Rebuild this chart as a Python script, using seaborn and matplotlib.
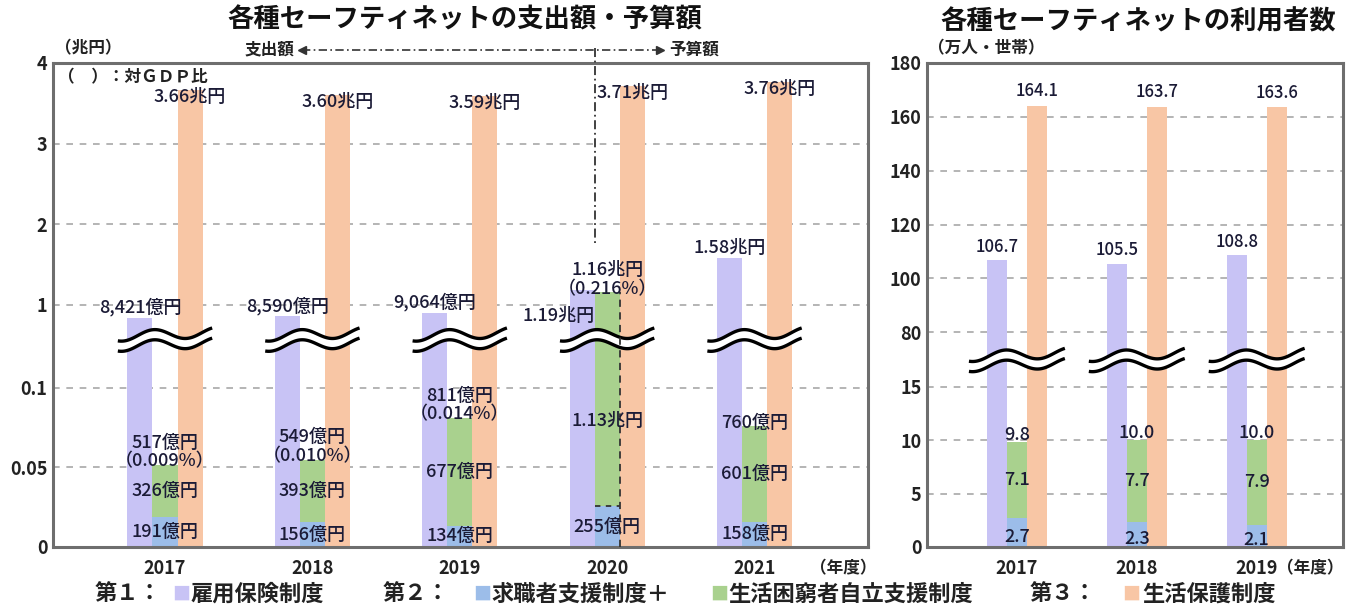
import numpy as np
import pandas as pd
import seaborn as sns
import matplotlib
matplotlib.use("Agg")
import matplotlib.pyplot as plt
import matplotlib.transforms as mtrans


# ----------------- Data -----------------
# left panel: spending / budget (trillion yen)
years_left = ["2017", "2018", "2019", "2020", "2021"]
koyo_left = [0.8421, 0.8590, 0.9064, 1.19, 1.58]          # 雇用保険制度
kyushoku_left = [0.0191, 0.0156, 0.0134, 0.0255, 0.0158]  # 求職者支援制度
konkyu_left = [0.0326, 0.0393, 0.0677, 1.13, 0.0601]      # 生活困窮者自立支援制度
hogo_left = [3.66, 3.60, 3.59, 3.71, 3.76]                # 生活保護制度

koyo_left_labels = ["8,421億円", "8,590億円", "9,064億円", "1.19兆円", "1.58兆円"]
kyushoku_left_labels = ["191億円", "156億円", "134億円", "255億円", "158億円"]
konkyu_left_labels = ["326億円", "393億円", "677億円", "1.13兆円", "601億円"]
total_left_labels = ["517億円\n（0.009%）", "549億円\n（0.010%）", "811億円\n（0.014%）",
                     "1.16兆円\n（0.216%）", "760億円"]
hogo_left_labels = ["3.66兆円", "3.60兆円", "3.59兆円", "3.71兆円", "3.76兆円"]

left_ticks = [0, 0.05, 0.1, 1, 2, 3, 4]
left_tick_labels = ["0", "0.05", "0.1", "1", "2", "3", "4"]

# right panel: users (10k people / households)
years_right = ["2017", "2018", "2019"]
koyo_right = [106.7, 105.5, 108.8]
kyushoku_right = [2.7, 2.3, 2.1]
konkyu_right = [7.1, 7.7, 7.9]
total_right = [9.8, 10.0, 10.0]
hogo_right = [164.1, 163.7, 163.6]

right_ticks = [0, 5, 10, 15, 80, 100, 120, 140, 160, 180]
right_tick_labels = ["0", "5", "10", "15", "80", "100", "120", "140", "160", "180"]

# ----------------- Style -----------------
LAV = "#c8c3f5"
BLUE = "#9cbde9"
GREEN = "#a9d18e"
PEACH = "#f8c6a5"
TXT = "#1b1b36"
FRAME = "#6e6e6e"
series_order = ["第1", "第2", "第3"]
palette = {"第1": LAV, "第2": GREEN, "第3": PEACH}
palette_blue = {"第1": LAV, "第2": BLUE, "第3": PEACH}

sns.set_style("white")
plt.rcParams["font.family"] = ["Noto Sans CJK JP", "DejaVu Sans"]

W, H = 1353, 607


def broken_scale(lo, hi, k_lo, k_hi, gap=1.0):
    """piecewise linear scale: 0..lo steep, hi..top shallow, lo..hi squeezed"""
    y0 = lo * k_lo

    def fwd(v):
        v = np.asarray(v, dtype=float)
        mid = y0 + (v - lo) / (hi - lo) * gap
        upper = y0 + gap + (v - hi) * k_hi
        return np.where(v <= lo, v * k_lo, np.where(v >= hi, upper, mid))

    def inv(y):
        y = np.asarray(y, dtype=float)
        mid = lo + (y - y0) / gap * (hi - lo)
        upper = hi + (y - y0 - gap) / k_hi
        return np.where(y <= y0, y / k_lo, np.where(y >= y0 + gap, upper, mid))

    return fwd, inv, y0 + gap / 2


def draw_bars(ax, years, koyo, kyushoku, konkyu, hogo, width):
    n = len(years)
    total = [a + b for a, b in zip(kyushoku, konkyu)]
    main = pd.DataFrame({
        "year": years * 3,
        "series": ["第1"] * n + ["第2"] * n + ["第3"] * n,
        "value": koyo + total + hogo,
    })
    sns.barplot(data=main, x="year", y="value", hue="series", hue_order=series_order,
                order=years, palette=palette, width=width, gap=0, saturation=1,
                errorbar=None, legend=False, ax=ax, linewidth=0)
    # lower part of the stacked 第2 bar (other series kept at 0 so dodge matches)
    low = pd.DataFrame({
        "year": years * 3,
        "series": ["第1"] * n + ["第2"] * n + ["第3"] * n,
        "value": [0] * n + kyushoku + [0] * n,
    })
    sns.barplot(data=low, x="year", y="value", hue="series", hue_order=series_order,
                order=years, palette=palette_blue, width=width, gap=0, saturation=1,
                errorbar=None, legend=False, ax=ax, linewidth=0)
    ax.set_xlabel("")
    ax.set_ylabel("")
    return total


def style_axes(ax, ticks, labels, ymax, fwd, inv):
    ax.set_yscale("function", functions=(fwd, inv))
    ax.set_ylim(0, ymax)
    ax.set_yticks(ticks)
    ax.set_yticklabels(labels)
    ax.yaxis.grid(True, color="#a8a8a8", linestyle=(0, (4, 4)), linewidth=1.2)
    ax.set_axisbelow(True)
    ax.tick_params(axis="both", length=0, labelsize=13, colors="#222222")
    ax.tick_params(axis="x", pad=9)
    ax.tick_params(axis="y", pad=4)
    for lab in ax.get_xticklabels() + ax.get_yticklabels():
        lab.set_fontweight("bold")
    for sp in ax.spines.values():
        sp.set_visible(True)
        sp.set_color(FRAME)
        sp.set_linewidth(2.2)


def draw_breaks(ax, n, yfrac, half, amp=0.0105, sep=0.0105):
    trans = mtrans.blended_transform_factory(ax.transData, ax.transAxes)
    t = np.linspace(-2.0, 7.3, 120)
    wave = amp * np.sin(t) + 0.004 * (t - 2.6) / 4.6
    for i in range(n):
        xs = np.linspace(i - half, i + half, t.size)
        top = yfrac + sep + wave
        bot = yfrac - sep + wave
        ax.fill_between(xs, bot, top, color="white", transform=trans, zorder=5)
        ax.plot(xs, top, color="black", lw=2.4, transform=trans, zorder=6,
                solid_capstyle="butt")
        ax.plot(xs, bot, color="black", lw=2.4, transform=trans, zorder=6,
                solid_capstyle="butt")


def label(ax, x, y, s, dy=0, va="bottom", ha="center", size=13):
    ax.annotate(s, (x, y), xytext=(0, dy), textcoords="offset points",
                ha=ha, va=va, fontsize=size, color=TXT, zorder=8,
                linespacing=1.05, fontweight="medium")


fig = plt.figure(figsize=(W / 100, H / 100), dpi=100)
axL = fig.add_axes([53 / W, 60 / H, 815 / W, 484 / H])
axR = fig.add_axes([927 / W, 60 / H, 416 / W, 484 / H])

# ----------------- Left panel -----------------
bw = 0.17
total_left = draw_bars(axL, years_left, koyo_left, kyushoku_left, konkyu_left,
                       hogo_left, width=3 * bw)
fwdL, invL, brkL = broken_scale(0.13, 0.58, 1600, 81)
style_axes(axL, left_ticks, left_tick_labels, 4, fwdL, invL)
axL.set_xlim(-0.76, 4.77)
draw_breaks(axL, len(years_left), brkL / float(fwdL(4)), 0.32)

for i in range(len(years_left)):
    # 第1
    if total_left[i] > 0.5 * koyo_left[i]:
        label(axL, i - bw / 2, koyo_left[i] - 0.33, koyo_left_labels[i], va="center", ha="right")
    else:
        label(axL, i - bw, koyo_left[i], koyo_left_labels[i], dy=1)
    # 第3
    label(axL, i + bw, hogo_left[i], hogo_left_labels[i], dy=-5, va="center")
    # 第2 stack
    label(axL, i, kyushoku_left[i] / 2, kyushoku_left_labels[i], va="center")
    mid = kyushoku_left[i] + konkyu_left[i] / 2
    label(axL, i, mid if mid < 0.1 else 0.079, konkyu_left_labels[i], va="center")
    label(axL, i, total_left[i], total_left_labels[i], dy=-4)

# 2020: budget portion outlined, expenditure / budget divider
transL = mtrans.blended_transform_factory(axL.transData, axL.transAxes)
xdiv = 3 - bw / 2
axL.plot([xdiv, xdiv], [1.03, float(fwdL(1.75) / fwdL(4))], transform=transL,
         color="#333333", lw=1.3, ls=(0, (5, 2, 1, 2)), clip_on=False, zorder=7)
axL.plot([3 + bw / 2, 3 + bw / 2], [0, total_left[3]], color="#333333", lw=1.3,
         ls=(0, (4, 3)), zorder=7)
axL.plot([xdiv, 3 + bw / 2], [kyushoku_left[3]] * 2, color="#333333", lw=1.3,
         ls=(0, (3, 3)), zorder=7)

# arrow above the panel
ya = 1.027
axL.plot([0.93, 3.36], [ya, ya], transform=transL, color="#333333", lw=1.2,
         ls=(0, (5, 2, 1, 2)), clip_on=False)
axL.plot([0.93], [ya], marker="<", ms=6, color="#333333", transform=transL, clip_on=False)
axL.plot([3.36], [ya], marker=">", ms=6, color="#333333", transform=transL, clip_on=False)
axL.text(0.88, ya, "支出額", transform=transL, ha="right", va="center",
         fontsize=12, fontweight="bold", color="#222222")
axL.text(3.42, ya, "予算額", transform=transL, ha="left", va="center",
         fontsize=12, fontweight="bold", color="#222222")

axL.text(0.006, 0.99, "（　）：対ＧＤＰ比", transform=axL.transAxes, ha="left", va="top",
         fontsize=12, fontweight="bold", color="#222222")
axL.text(1.01, -0.045, "（年度）", transform=axL.transAxes, ha="right", va="center",
         fontsize=12, fontweight="bold", color="#222222")
fig.text(55 / W, 1 - 48 / H, "（兆円）", ha="left", va="center", fontsize=12,
         fontweight="bold", color="#222222")
fig.text(465 / W, 1 - 20 / H, "各種セーフティネットの支出額・予算額", ha="center",
         va="center", fontsize=19, fontweight="bold", color="#111111")

# ----------------- Right panel -----------------
bwr = 0.167
draw_bars(axR, years_right, koyo_right, kyushoku_right, konkyu_right, hogo_right,
          width=3 * bwr)
fwdR, invR, brkR = broken_scale(17.5, 70, 10.7, 2.7)
style_axes(axR, right_ticks, right_tick_labels, 180, fwdR, invR)
axR.set_xlim(-0.75, 2.72)
draw_breaks(axR, len(years_right), brkR / float(fwdR(180)), 0.40)

for i in range(len(years_right)):
    label(axR, i - bwr, koyo_right[i], f"{koyo_right[i]:.1f}", dy=3, size=12)
    label(axR, i + bwr, hogo_right[i], f"{hogo_right[i]:.1f}", dy=4, size=12)
    label(axR, i, total_right[i], f"{total_right[i]:.1f}", dy=-1, size=13)
    label(axR, i, kyushoku_right[i] + konkyu_right[i] / 2, f"{konkyu_right[i]:.1f}",
          va="center", size=13)
    label(axR, i, kyushoku_right[i] / 2, f"{kyushoku_right[i]:.1f}", va="center",
          dy=-3, size=13)

axR.text(1.0, -0.045, "（年度）", transform=axR.transAxes, ha="right", va="center",
         fontsize=12, fontweight="bold", color="#222222")
fig.text(928 / W, 1 - 48 / H, "（万人・世帯）", ha="left", va="center", fontsize=12,
         fontweight="bold", color="#222222")
fig.text(1138 / W, 1 - 22 / H, "各種セーフティネットの利用者数", ha="center",
         va="center", fontsize=19, fontweight="bold", color="#111111")

# ----------------- Bottom legend line -----------------
legend_parts = [
    (95, "第１：", "#222222"), (172, "■", LAV), (190, "雇用保険制度", "#222222"),
    (383, "第２：", "#222222"), (473, "■", BLUE), (491, "求職者支援制度＋", "#222222"),
    (710, "■", GREEN), (728, "生活困窮者自立支援制度", "#222222"),
    (1030, "第３：", "#222222"), (1122, "■", PEACH), (1142, "生活保護制度", "#222222"),
]
for x, s, c in legend_parts:
    fig.text(x / W, 1 - 594 / H, s, ha="left", va="center", color=c,
             fontsize=13 if s == "■" else 16, fontweight="bold")

fig.savefig("out.png", dpi=100)
